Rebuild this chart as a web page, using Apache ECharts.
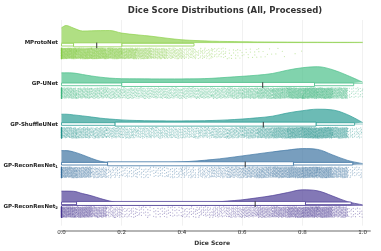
<!DOCTYPE html>
<html><head><meta charset="utf-8">
<script src="https://cdn.jsdelivr.net/npm/echarts@6/dist/echarts.min.js"></script>
<style>html,body{margin:0;padding:0;background:#fff}#c{width:381px;height:251px}</style>
</head><body><div id="c"></div>
<script>
// ---- data ----
const models = ['MProtoNet', 'GP-UNet', 'GP-ShuffleUNet', 'GP-ReconResNet1', 'GP-ReconResNet2'];
const xTicks = [0, 0.2, 0.4, 0.6, 0.8, 1.0];
// KDE evaluation points and relative density (half-violin heights)
const kdeX = [0, 0.015, 0.04, 0.07, 0.1, 0.13, 0.16, 0.2, 0.25, 0.3, 0.35, 0.4, 0.45, 0.5, 0.55, 0.6, 0.65, 0.7, 0.75, 0.8, 0.85, 0.9, 0.95, 1.0];
const densMProtoNet = [15, 17.3, 14.7, 11.8, 12, 12.2, 12.3, 9.7, 8, 6.5, 4.6, 3, 2.2, 1.6, 1.3, 1.1, 0.9, 0.8, 0.7, 0.6, 0.6, 0.5, 0.5, 0.5];
const densGPUNet = [10.7, 10.7, 10.5, 9, 7.5, 6.3, 5.4, 4.8, 4.7, 4.6, 4.6, 4.6, 4.7, 5.2, 6.2, 7.2, 8.3, 10, 13.3, 15.8, 16.8, 13.8, 8, 1.3];
const densGPShuffle = [10, 10, 9.3, 8.3, 7.2, 6, 5.2, 4.3, 3.7, 3.4, 3.3, 3.3, 3.4, 3.7, 4.3, 5.2, 6.4, 8, 11.2, 13.5, 15, 14.3, 9.5, 1.6];
const densRecon1 = [14.3, 14.3, 13, 10, 6.5, 3.6, 2.6, 2, 1.9, 2, 2.3, 3, 4, 5.3, 7, 9, 11, 13, 14.8, 16.3, 15.5, 10, 4.5, 1.3];
const densRecon2 = [14.5, 14.5, 14.3, 12, 9.8, 7, 4.6, 2.2, 1.6, 1.5, 1.5, 1.8, 2.6, 3.3, 4.5, 5.8, 7.8, 10, 13, 15.8, 14.8, 9.6, 3.9, 0.8];
// box stats: [whisker low, Q1, median, Q3, whisker high]
const boxMProtoNet = [0, 0.04, 0.117, 0.2, 0.44];
const boxGPUNet = [0, 0.2, 0.668, 0.84, 0.97];
const boxGPShuffle = [0, 0.178, 0.67, 0.845, 0.973];
const boxRecon1 = [0, 0.153, 0.61, 0.77, 0.967];
const boxRecon2 = [0, 0.05, 0.643, 0.81, 0.962];
// raw-score strip: number of cases exactly at 0, and counts per 0.05-wide bin
const zerosCount = [120, 120, 120, 120, 160];
const binsMProtoNet = [400, 340, 330, 300, 240, 180, 130, 90, 60, 40, 28, 18, 12, 8, 4, 2, 0, 0, 0, 0];
const binsGPUNet = [150, 130, 110, 96, 88, 84, 84, 84, 86, 92, 100, 116, 140, 170, 210, 260, 300, 280, 190, 30];
const binsGPShuffle = [140, 120, 100, 84, 74, 68, 66, 66, 68, 74, 84, 100, 124, 160, 200, 250, 290, 280, 200, 40];
const binsRecon1 = [190, 150, 80, 40, 30, 28, 28, 32, 40, 52, 68, 88, 112, 140, 172, 200, 224, 210, 130, 30];
const binsRecon2 = [220, 200, 130, 60, 30, 24, 22, 22, 28, 36, 48, 64, 84, 112, 144, 184, 216, 200, 120, 24];

// ---- presentation ----
const dens = [densMProtoNet, densGPUNet, densGPShuffle, densRecon1, densRecon2];
const boxes = [boxMProtoNet, boxGPUNet, boxGPShuffle, boxRecon1, boxRecon2];
const bins = [binsMProtoNet, binsGPUNet, binsGPShuffle, binsRecon1, binsRecon2];
const lineCol = ['#8fd14f', '#4cc08a', '#2e9e96', '#3e75a3', '#4f3f97'];
const ptCol = ['#86cc44', '#3db57e', '#23928b', '#356d9c', '#463690'];

const GL = 61.5, GR = 18.3, GT = 20, GB = 20;
const H = 211; // main y-axis span (grid height in px)
const rowPx = k => 42.8 + 40.7 * k - GT; // baseline offset from grid top
const baseV = k => H - rowPx(k);
const DH = 20; // density sub-grid height

function frac(v) { return v - Math.floor(v); }
function strip(k) {
  const pts = [];
  const hi = baseV(k) - 6, lo = baseV(k) - 17;
  let n = 0;
  for (let i = 0; i < zerosCount[k]; i++, n++) pts.push([0, lo + frac(n * 0.7548776662 + 0.5) * (hi - lo)]);
  bins[k].forEach((c, j) => {
    for (let i = 0; i < c; i++, n++) {
      pts.push([(j + frac(n * 0.5698402910 + 0.31)) * 0.05, lo + frac(n * 0.7548776662 + 0.5) * (hi - lo)]);
    }
  });
  return pts;
}

const grids = [
  { left: GL, right: GR, top: GT, bottom: GB },
  { left: GL, right: GR, top: 22.5, height: 205 },
  { left: 61, right: 11, top: GT, bottom: GB }
];
const xAxes = [
  {
    gridIndex: 0, type: 'value', min: 0, max: 1, interval: 0.2,
    axisLine: { show: false }, axisTick: { show: false },
    axisLabel: { fontFamily: 'DejaVu Sans', fontSize: 5.5, color: '#333', margin: 3.5, formatter: v => v.toFixed(1) },
    splitLine: { show: true, lineStyle: { color: '#e8e8e8', width: 0.6 } },
    name: 'Dice Score', nameLocation: 'middle', nameGap: 13,
    nameTextStyle: { fontFamily: 'DejaVu Sans', fontWeight: 'bold', fontSize: 6, color: '#333' }
  },
  { gridIndex: 1, type: 'value', min: 0, max: 1, show: false },
  {
    gridIndex: 2, type: 'value', min: 0, max: 1,
    axisLine: { show: true, lineStyle: { color: '#b5b5b5', width: 2 } },
    axisTick: { show: false }, axisLabel: { show: false }, splitLine: { show: false }
  }
];
const yAxes = [
  { gridIndex: 0, type: 'value', min: 0, max: H, show: false },
  {
    gridIndex: 1, type: 'category', inverse: true, data: models,
    axisLine: { show: false }, axisTick: { show: false }, splitLine: { show: false },
    axisLabel: {
      margin: 3.5, fontFamily: 'DejaVu Sans', fontWeight: 'bold', fontSize: 5.5, color: '#222',
      formatter: s => { const m = s.match(/^(.*ResNet)(\d)$/); return m ? m[1] + '{sub|' + m[2] + '}' : s; },
      rich: { sub: { fontFamily: 'DejaVu Sans', fontWeight: 'bold', fontSize: 3.8, color: '#222', padding: [3, 0, 0, 0] } }
    }
  },
  { gridIndex: 2, type: 'value', show: false }
];

const series = [];
models.forEach((m, k) => {
  const gi = 3 + k;
  grids.push({ left: GL, right: GR, top: GT + rowPx(k) - DH, height: DH });
  xAxes.push({ gridIndex: gi, type: 'value', min: 0, max: 1, show: false });
  yAxes.push({ gridIndex: gi, type: 'value', min: 0, max: DH, show: false });
  series.push({
    type: 'line', xAxisIndex: gi, yAxisIndex: gi, symbol: 'none', smooth: 0.35, silent: true,
    data: kdeX.map((x, i) => [x, dens[k][i]]),
    lineStyle: { color: lineCol[k], width: 0.7 },
    areaStyle: { color: lineCol[k], opacity: 0.7 }, z: 2
  });
  series.push({
    type: 'line', xAxisIndex: gi, yAxisIndex: gi, symbol: 'none', silent: true,
    data: kdeX.map(x => [x, 0]),
    lineStyle: { color: lineCol[k], width: 0.7 }, z: 2
  });
  series.push({
    type: 'scatter', symbolSize: 1.2, silent: true,
    data: strip(k),
    itemStyle: { color: ptCol[k], opacity: 0.45 }, z: 3
  });
});
series.push({
  type: 'custom', silent: true, z: 4,
  data: boxes.map((b, k) => [...b, k]),
  encode: { x: [0, 4], y: 5 },
  renderItem(params, api) {
    const k = api.value(5);
    const py = api.coord([0, baseV(k)])[1];
    const X = i => api.coord([api.value(i), baseV(k)])[0];
    const xl = X(0), x1 = X(1), xm = X(2), x3 = X(3), xh = X(4);
    const c = lineCol[k];
    const st = { fill: '#fff', stroke: c, lineWidth: 0.8 };
    return {
      type: 'group', children: [
        { type: 'rect', shape: { x: xl, y: py + 1.2, width: x1 - xl, height: 2.6 }, style: st },
        { type: 'rect', shape: { x: x3, y: py + 1.2, width: xh - x3, height: 2.6 }, style: st },
        { type: 'rect', shape: { x: x1, y: py + 0.6, width: x3 - x1, height: 4 }, style: st },
        { type: 'line', shape: { x1: xm, y1: py + 0.4, x2: xm, y2: py + 6 }, style: { stroke: '#333', lineWidth: 1 } }
      ]
    };
  }
});

const chart = echarts.init(document.getElementById('c'), null, { renderer: 'canvas' });
chart.setOption({
  animation: false,
  backgroundColor: '#fff',
  title: {
    text: 'Dice Score Distributions (All, Processed)', left: 220, top: 1, textAlign: 'center',
    textStyle: { fontFamily: 'DejaVu Sans', fontWeight: 'bold', fontSize: 8.5, color: '#333' }
  },
  grid: grids, xAxis: xAxes, yAxis: yAxes,
  series
});
</script></body></html>
